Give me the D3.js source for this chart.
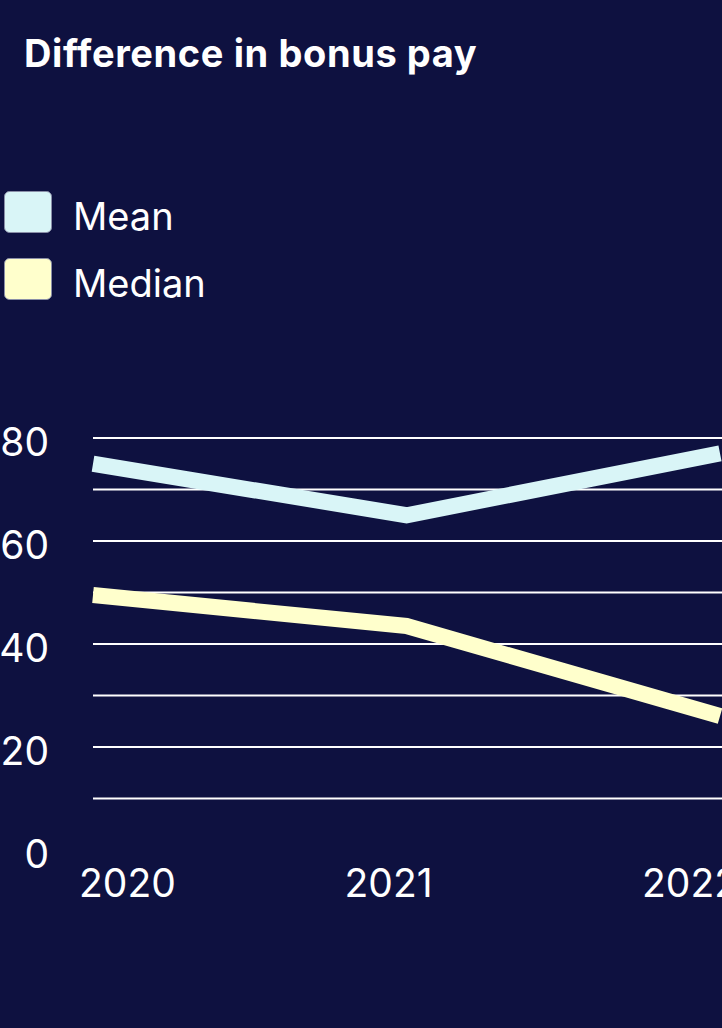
<!DOCTYPE html>
<html>
<head>
<meta charset="utf-8">
<script src="https://cdn.jsdelivr.net/npm/d3@7"></script>
<style>
  html, body { margin: 0; padding: 0; background: #0e1140; }
  svg { display: block; }
  text { font-family: Inter, "Open Sans", sans-serif; fill: #ffffff; }
</style>
</head>
<body>
<div id="chart"></div>
<script>
// chart data
const years = [2020, 2021, 2022];
const meanValues = [75, 65, 77];
const medianValues = [49.5, 43.5, 26];
const seriesNames = ["Mean", "Median"];
const seriesColors = ["#d9f5f7", "#ffffcc"];
const yTickLabels = [0, 20, 40, 60, 80];
const gridValues = [10, 20, 30, 40, 50, 60, 70, 80];

const W = 722, H = 1028;

const svg = d3.select("#chart").append("svg")
    .attr("width", W)
    .attr("height", H);

svg.append("rect")
    .attr("width", W)
    .attr("height", H)
    .attr("fill", "#0e1140");

// Title
svg.append("text")
    .attr("x", 24)
    .attr("y", 67)
    .style("font-size", "38px")
    .style("font-weight", "700")
    .style("letter-spacing", "0.6px")
    .text("Difference in bonus pay");

// Legend
const legend = svg.append("g").attr("transform", "translate(4,191)");
seriesNames.forEach((name, i) => {
    const g = legend.append("g").attr("transform", `translate(0,${i * 67})`);
    g.append("rect")
        .attr("x", 0.5)
        .attr("y", 0.5)
        .attr("width", 47)
        .attr("height", 41)
        .attr("rx", 5)
        .attr("fill", seriesColors[i])
        .attr("stroke", "#8a8fa8")
        .attr("stroke-width", 1);
    g.append("text")
        .attr("x", 69)
        .attr("y", 39)
        .style("font-size", "38px")
        .text(name);
});

// Scales
const x = d3.scalePoint().domain(years).range([93, 720]);
const y = d3.scaleLinear().domain([0, 80]).range([850, 438]);

// Gridlines
svg.append("g")
    .selectAll("line")
    .data(gridValues)
    .join("line")
    .attr("x1", 93)
    .attr("x2", W)
    .attr("y1", d => y(d))
    .attr("y2", d => y(d))
    .attr("stroke", "#ffffff")
    .attr("stroke-width", 2);

// Y axis labels
svg.append("g")
    .selectAll("text")
    .data(yTickLabels)
    .join("text")
    .attr("x", 49)
    .attr("y", d => y(d))
    .attr("dy", "0.45em")
    .attr("text-anchor", "end")
    .style("font-size", "39px")
    .text(d => d);

// X axis labels (shifted like the original layout)
const xLabelShift = [-14, -62, -78];
svg.append("g")
    .selectAll("text")
    .data(years)
    .join("text")
    .attr("x", (d, i) => x(d) + xLabelShift[i])
    .attr("y", 897)
    .style("font-size", "39px")
    .text(d => d);

// Lines
const line = d3.line()
    .x((d, i) => x(years[i]))
    .y(d => y(d));

[meanValues, medianValues].forEach((vals, i) => {
    svg.append("path")
        .datum(vals)
        .attr("d", line)
        .attr("fill", "none")
        .attr("stroke", seriesColors[i])
        .attr("stroke-width", 16)
        .attr("stroke-linejoin", "miter");
});
</script>
</body>
</html>
